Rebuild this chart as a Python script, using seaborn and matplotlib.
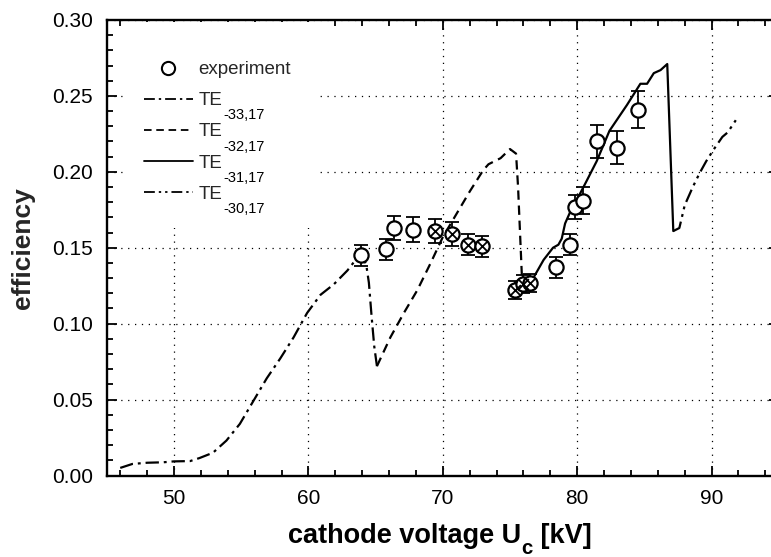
import numpy as np
import pandas as pd
import matplotlib
matplotlib.use('Agg')
import matplotlib.pyplot as plt
from matplotlib.lines import Line2D
from matplotlib.patches import Rectangle
from matplotlib.ticker import MultipleLocator, FormatStrFormatter
import seaborn as sns

# ---- data ----
te33_x = [46.0, 46.9, 48.0, 49.2, 50.0, 51.2, 51.9, 52.9, 53.9, 54.9, 55.9, 56.9, 57.9,
          58.9, 59.9, 60.9, 61.9, 62.9, 63.6, 64.0, 64.3, 64.5, 64.7, 64.9, 65.1]
te33_y = [0.005, 0.0076, 0.0084, 0.0087, 0.0093, 0.0095, 0.0115, 0.015, 0.023, 0.034, 0.049,
          0.064, 0.077, 0.091, 0.107, 0.119, 0.126, 0.135, 0.143, 0.144, 0.139, 0.127, 0.105,
          0.085, 0.072]

te32_x = [65.1, 66.1, 67.1, 68.1, 69.1, 70.0, 71.0, 72.0, 73.0, 73.4, 74.3, 75.0, 75.45,
          75.6, 75.75, 75.9]
te32_y = [0.072, 0.091, 0.107, 0.122, 0.140, 0.157, 0.172, 0.187, 0.201, 0.205, 0.209,
          0.215, 0.212, 0.19, 0.159, 0.128]

te31_x = [76.6, 77.5, 78.2, 78.6, 78.85, 79.1, 79.5, 80.0, 80.7, 81.45, 82.4, 83.7, 84.7,
          85.2, 85.7, 86.2, 86.7, 87.15]
te31_y = [0.128, 0.142, 0.150, 0.152, 0.156, 0.166, 0.174, 0.182, 0.194, 0.207, 0.227,
          0.244, 0.258, 0.258, 0.265, 0.267, 0.271, 0.161]

te30_x = [87.15, 87.6, 88.0, 88.6, 89.1, 89.6, 90.1, 90.8, 91.2, 91.8]
te30_y = [0.161, 0.163, 0.178, 0.19, 0.199, 0.207, 0.214, 0.223, 0.226, 0.234]

exp_x = [63.9, 65.8, 66.4, 67.8, 69.4, 70.7, 71.9, 72.9, 75.4, 76.0, 76.5, 78.4, 79.5,
         79.85, 80.45, 81.45, 82.95, 84.55]
exp_y = [0.145, 0.149, 0.163, 0.162, 0.161, 0.159, 0.152, 0.151, 0.122, 0.126, 0.127,
         0.137, 0.152, 0.177, 0.181, 0.220, 0.216, 0.241]
exp_err = [0.007, 0.007, 0.008, 0.008, 0.008, 0.008, 0.007, 0.007, 0.006, 0.006, 0.006,
           0.007, 0.007, 0.008, 0.009, 0.011, 0.011, 0.012]
exp_crossed = [False, False, False, False, True, True, True, True, True, True, True,
               False, False, False, False, False, False, False]

legend_main = ['experiment', 'TE', 'TE', 'TE', 'TE']
legend_sub = ['', '-33,17', '-32,17', '-31,17', '-30,17']

# ---- style ----
sns.set_theme(style='ticks')
plt.rcParams['font.family'] = ['Liberation Sans', 'DejaVu Sans']

W, H = 771, 557
fig = plt.figure(figsize=(W / 100, H / 100), dpi=100)
ax = fig.add_axes([106.8 / W, (H - 475.5) / H, 672 / W, 455.5 / H])

ls33 = (0, (6, 2.2, 1.3, 2.2))
ls32 = (0, (4.2, 2.6))
ls31 = '-'
ls30 = (0, (6, 2.2, 1.3, 2.2, 1.3, 2.2))
lw = 1.6

for xs, ys, ls in [(te33_x, te33_y, ls33), (te32_x, te32_y, ls32),
                   (te31_x, te31_y, ls31), (te30_x, te30_y, ls30)]:
    sns.lineplot(x=xs, y=ys, ax=ax, color='black', linewidth=lw, linestyle=ls,
                 sort=False, estimator=None, zorder=3)

ax.errorbar(exp_x, exp_y, yerr=exp_err, fmt='none', ecolor='black', elinewidth=1.3,
            capsize=5, capthick=1.3, zorder=4)
sns.scatterplot(x=exp_x, y=exp_y, ax=ax, marker='o', s=105, facecolor='white',
                edgecolor='black', linewidth=1.6, zorder=5)
cx = [x for x, c in zip(exp_x, exp_crossed) if c]
cy = [y for y, c in zip(exp_y, exp_crossed) if c]
sns.scatterplot(x=cx, y=cy, ax=ax, marker='x', s=60, color='black', linewidth=1.3, zorder=6)

ax.set_xlim(45, 95)
ax.set_ylim(0.0, 0.30)
ax.xaxis.set_major_locator(MultipleLocator(10))
ax.xaxis.set_minor_locator(MultipleLocator(2))
ax.yaxis.set_major_locator(MultipleLocator(0.05))
ax.yaxis.set_minor_locator(MultipleLocator(0.01))
ax.yaxis.set_major_formatter(FormatStrFormatter('%.2f'))

ax.tick_params(which='both', direction='in', top=True, right=True, color='black',
               width=1.3, labelsize=15, labelcolor='black', pad=10)
ax.tick_params(which='major', length=7)
ax.tick_params(which='minor', length=4)
for s in ax.spines.values():
    s.set_linewidth(1.7)
    s.set_color('black')

ax.grid(True, which='major', linestyle=(0, (1, 4.5)), color='black', linewidth=0.9)
ax.set_axisbelow(True)

# white area behind the legend (hides grid there)
x0 = (125 - 106.8) / 672
x1 = (317 - 106.8) / 672
y0 = (475.5 - 228) / 455.5
ax.add_patch(Rectangle((x0, y0), x1 - x0, 0.995 - y0, transform=ax.transAxes,
                       facecolor='white', edgecolor='none', zorder=1.5))

ax.set_ylabel('efficiency', fontsize=19, fontweight='bold')
ax.yaxis.set_label_coords((35 - 106.8) / 672, 0.5)
ax.set_xlabel('')

handles = [
    Line2D([], [], linestyle='none', marker='o', markersize=9.5, markerfacecolor='white',
           markeredgecolor='black', markeredgewidth=1.5),
    Line2D([], [], color='black', linewidth=1.3, linestyle=ls33),
    Line2D([], [], color='black', linewidth=1.3, linestyle=ls32),
    Line2D([], [], color='black', linewidth=1.3, linestyle=ls31),
    Line2D([], [], color='black', linewidth=1.3, linestyle=ls30),
]
leg = ax.legend(handles, legend_main, loc='upper left',
                bbox_to_anchor=((144 - 106.8) / 672, (475.5 - 61) / 455.5),
                frameon=False, fontsize=13.5, handlelength=2.6, handletextpad=0.3,
                labelspacing=0.75, borderaxespad=0, borderpad=0)
leg.set_zorder(10)

fig.canvas.draw()
r = fig.canvas.get_renderer()

# subscripts of the legend labels, dropped low like in the original
for t, sub in zip(leg.get_texts(), legend_sub):
    if not sub:
        continue
    bb = t.get_window_extent(r)
    fig.text((bb.x1 + 1) / W, (bb.y0 + 1) / H, sub, fontsize=10.5, ha='left', va='top',
             color='black', zorder=11)

# x axis title with a low subscript
fs = 19.5
base_y = H - 543
parts = [('cathode voltage U', fs, 0), ('c', fs * 0.75, -11), (' [kV]', fs, 0)]
tmp = [fig.text(0, 0, p, fontsize=s, fontweight='bold') for p, s, _ in parts]
widths = [tt.get_window_extent(r).width for tt in tmp]
for tt in tmp:
    tt.remove()
total = sum(widths)
xpos = 440 - total / 2
for (p, s, dy), w in zip(parts, widths):
    fig.text(xpos / W, (base_y + dy) / H, p, fontsize=s, fontweight='bold',
             ha='left', va='baseline', color='black')
    xpos += w

fig.savefig('out.png', dpi=100)
